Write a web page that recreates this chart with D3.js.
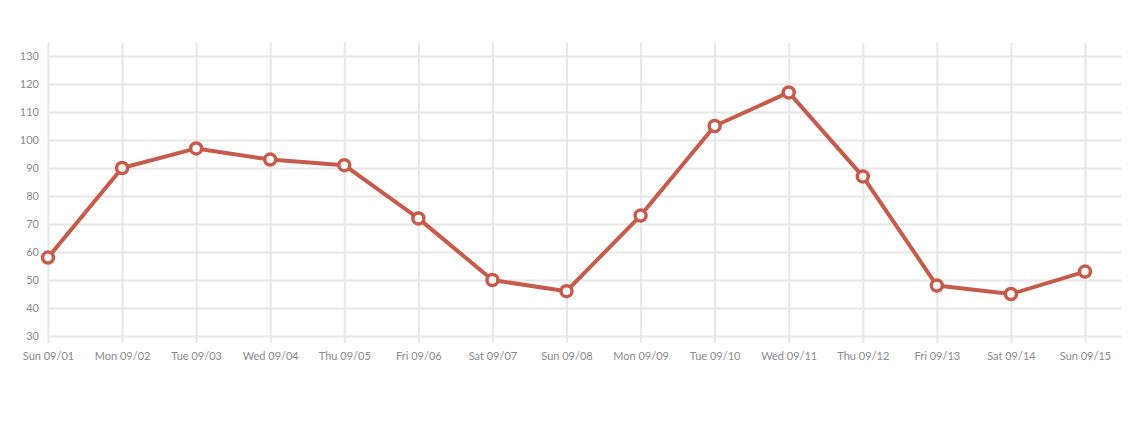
<!DOCTYPE html>
<html>
<head>
<meta charset="utf-8">
<script src="https://cdn.jsdelivr.net/npm/d3@7"></script>
<style>
  body { margin: 0; background: #fff; }
  .tick text { font-family: Lato, "Open Sans", sans-serif; font-size: 11px; fill: #8a8a8a; }
</style>
</head>
<body>
<div class="chart"></div>
<script>
// data
var days = ['Sun 09/01', 'Mon 09/02', 'Tue 09/03', 'Wed 09/04', 'Thu 09/05', 'Fri 09/06', 'Sat 09/07',
  'Sun 09/08', 'Mon 09/09', 'Tue 09/10', 'Wed 09/11', 'Thu 09/12', 'Fri 09/13', 'Sat 09/14', 'Sun 09/15'];
var counts = [58, 90, 97, 93, 91, 72, 50, 46, 73, 105, 117, 87, 48, 45, 53];
var yTicks = [30, 40, 50, 60, 70, 80, 90, 100, 110, 120, 130];

var width = 1140;
var height = 425;
var LEFT = 48, RIGHT = 1085, GRID_RIGHT = 1122;
var TOP = 56, BOTTOM = 336;
var LINE_COLOR = '#c75b4b';
var GRID_COLOR = '#e8e6e8';

var svg = d3.select('.chart').append('svg')
  .attr('width', width)
  .attr('height', height);

var x = d3.scalePoint().domain(days).range([LEFT, RIGHT]);
var y = d3.scaleLinear().domain([30, 130]).range([BOTTOM, TOP]);

// horizontal grid + y labels
var yAxis = svg.append('g')
  .attr('transform', 'translate(' + LEFT + ',0)')
  .call(d3.axisLeft(y).tickValues(yTicks).tickSize(-(GRID_RIGHT - LEFT)).tickPadding(9));
yAxis.select('.domain').remove();
yAxis.selectAll('.tick line').attr('stroke', GRID_COLOR).attr('stroke-width', 2).attr('x1', 0);

// vertical grid + x labels
var xAxis = svg.append('g')
  .attr('transform', 'translate(0,' + BOTTOM + ')')
  .call(d3.axisBottom(x).tickSize(7).tickPadding(9));
xAxis.select('.domain').remove();
xAxis.selectAll('.tick line')
  .attr('stroke', GRID_COLOR).attr('stroke-width', 2)
  .attr('y1', -(BOTTOM - 43));

var pts = days.map(function (d, i) { return { day: d, count: counts[i] }; });

var line = d3.line()
  .x(function (d) { return x(d.day); })
  .y(function (d) { return y(d.count); });

svg.append('path')
  .datum(pts)
  .attr('fill', 'none')
  .attr('stroke', LINE_COLOR)
  .attr('stroke-width', 4)
  .attr('stroke-linejoin', 'round')
  .attr('d', line);

svg.selectAll('.dot')
  .data(pts)
  .enter().append('circle')
  .attr('class', 'dot')
  .attr('cx', function (d) { return x(d.day); })
  .attr('cy', function (d) { return y(d.count); })
  .attr('r', 5.5)
  .attr('fill', '#fff')
  .attr('stroke', LINE_COLOR)
  .attr('stroke-width', 3.5);
</script>
</body>
</html>
